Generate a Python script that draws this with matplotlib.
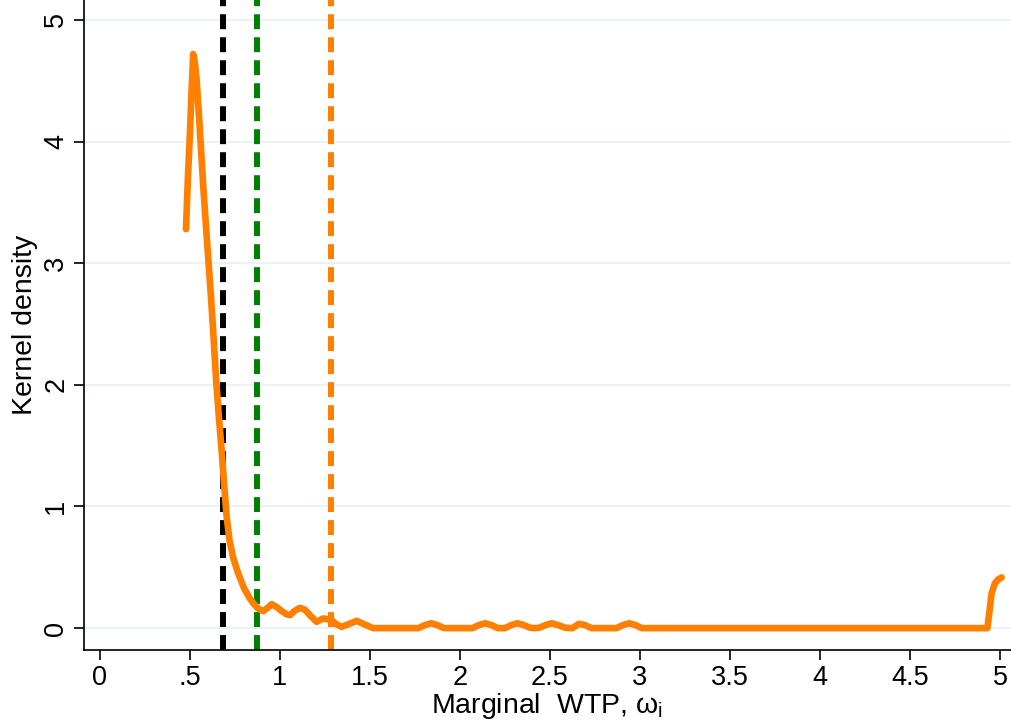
import matplotlib.pyplot as plt

plt.rcParams['font.family'] = ['Liberation Sans', 'DejaVu Sans']

# kernel density curve
wtp = [0.478, 0.490, 0.500, 0.510, 0.518, 0.527, 0.537, 0.555, 0.574, 0.595, 0.617,
       0.630, 0.645, 0.660, 0.676, 0.690, 0.704, 0.720, 0.740, 0.768, 0.800, 0.830,
       0.852, 0.880, 0.907, 0.930, 0.954, 0.980, 1.010, 1.035, 1.056, 1.080, 1.111,
       1.140, 1.170, 1.204, 1.240, 1.287, 1.315, 1.343, 1.385, 1.426, 1.470, 1.518,
       1.770, 1.805, 1.840, 1.875, 1.910,
       2.070, 2.105, 2.140, 2.175, 2.210,
       2.250, 2.285, 2.320, 2.355, 2.390, 2.415,
       2.440, 2.475, 2.510, 2.545, 2.585,
       2.625, 2.660, 2.695, 2.730,
       2.870, 2.905, 2.940, 2.975, 3.010,
       4.930, 4.940, 4.953, 4.972, 4.990, 5.009]
density = [3.28, 3.75, 4.07, 4.45, 4.72, 4.65, 4.51, 4.10, 3.63, 3.18, 2.72,
           2.42, 2.05, 1.75, 1.46, 1.18, 0.915, 0.72, 0.58, 0.45, 0.33, 0.25,
           0.203, 0.16, 0.14, 0.165, 0.197, 0.175, 0.14, 0.115, 0.107, 0.14, 0.167,
           0.15, 0.10, 0.052, 0.08, 0.066, 0.03, 0.011, 0.035, 0.06, 0.03, 0.0,
           0.0, 0.025, 0.04, 0.025, 0.0,
           0.0, 0.025, 0.04, 0.025, 0.0,
           0.0, 0.025, 0.04, 0.025, 0.003, 0.0,
           0.003, 0.025, 0.04, 0.025, 0.003,
           0.0, 0.035, 0.025, 0.0,
           0.0, 0.025, 0.04, 0.025, 0.0,
           0.0, 0.12, 0.285, 0.37, 0.40, 0.417]

# vertical reference lines
vlines = [0.683, 0.872, 1.283]
vcolors = ['black', '#008000', '#FF8000']

xticks = [0, 0.5, 1, 1.5, 2, 2.5, 3, 3.5, 4, 4.5, 5]
xticklabels = ['0', '.5', '1', '1.5', '2', '2.5', '3', '3.5', '4', '4.5', '5']
yticks = [0, 1, 2, 3, 4, 5]

fig = plt.figure(figsize=(10.11, 7.24), dpi=100)
ax = fig.add_axes([0.083, 0.102, 0.917, 0.898])

for y in yticks:
    ax.axhline(y, color='#EAF2F3', lw=1.5, zorder=0)

for x, c in zip(vlines, vcolors):
    ax.axvline(x, color=c, lw=4.3, linestyle=(0, (2.5, 1.35)), zorder=2)

ax.plot(wtp, density, color='#FF8000', lw=4.8, solid_capstyle='round',
        solid_joinstyle='round', zorder=3)

ax.set_xlim(-0.089, 5.061)
ax.set_ylim(-0.181, 5.164)
ax.set_xticks(xticks)
ax.set_xticklabels(xticklabels)
ax.set_yticks(yticks)
ax.set_yticklabels([str(y) for y in yticks], rotation=90, va='center')
ax.tick_params(axis='both', labelsize=19.5, length=7, width=1.2, direction='out')
ax.spines['top'].set_visible(False)
ax.spines['right'].set_visible(False)
ax.spines['left'].set_linewidth(1.2)
ax.spines['bottom'].set_linewidth(1.2)

ax.set_xlabel(r'Marginal  WTP, ω$_\mathregular{i}$', fontsize=20.5, labelpad=0)
ax.set_ylabel('Kernel density', fontsize=20.5, labelpad=4)

fig.savefig('out.png', dpi=100)
